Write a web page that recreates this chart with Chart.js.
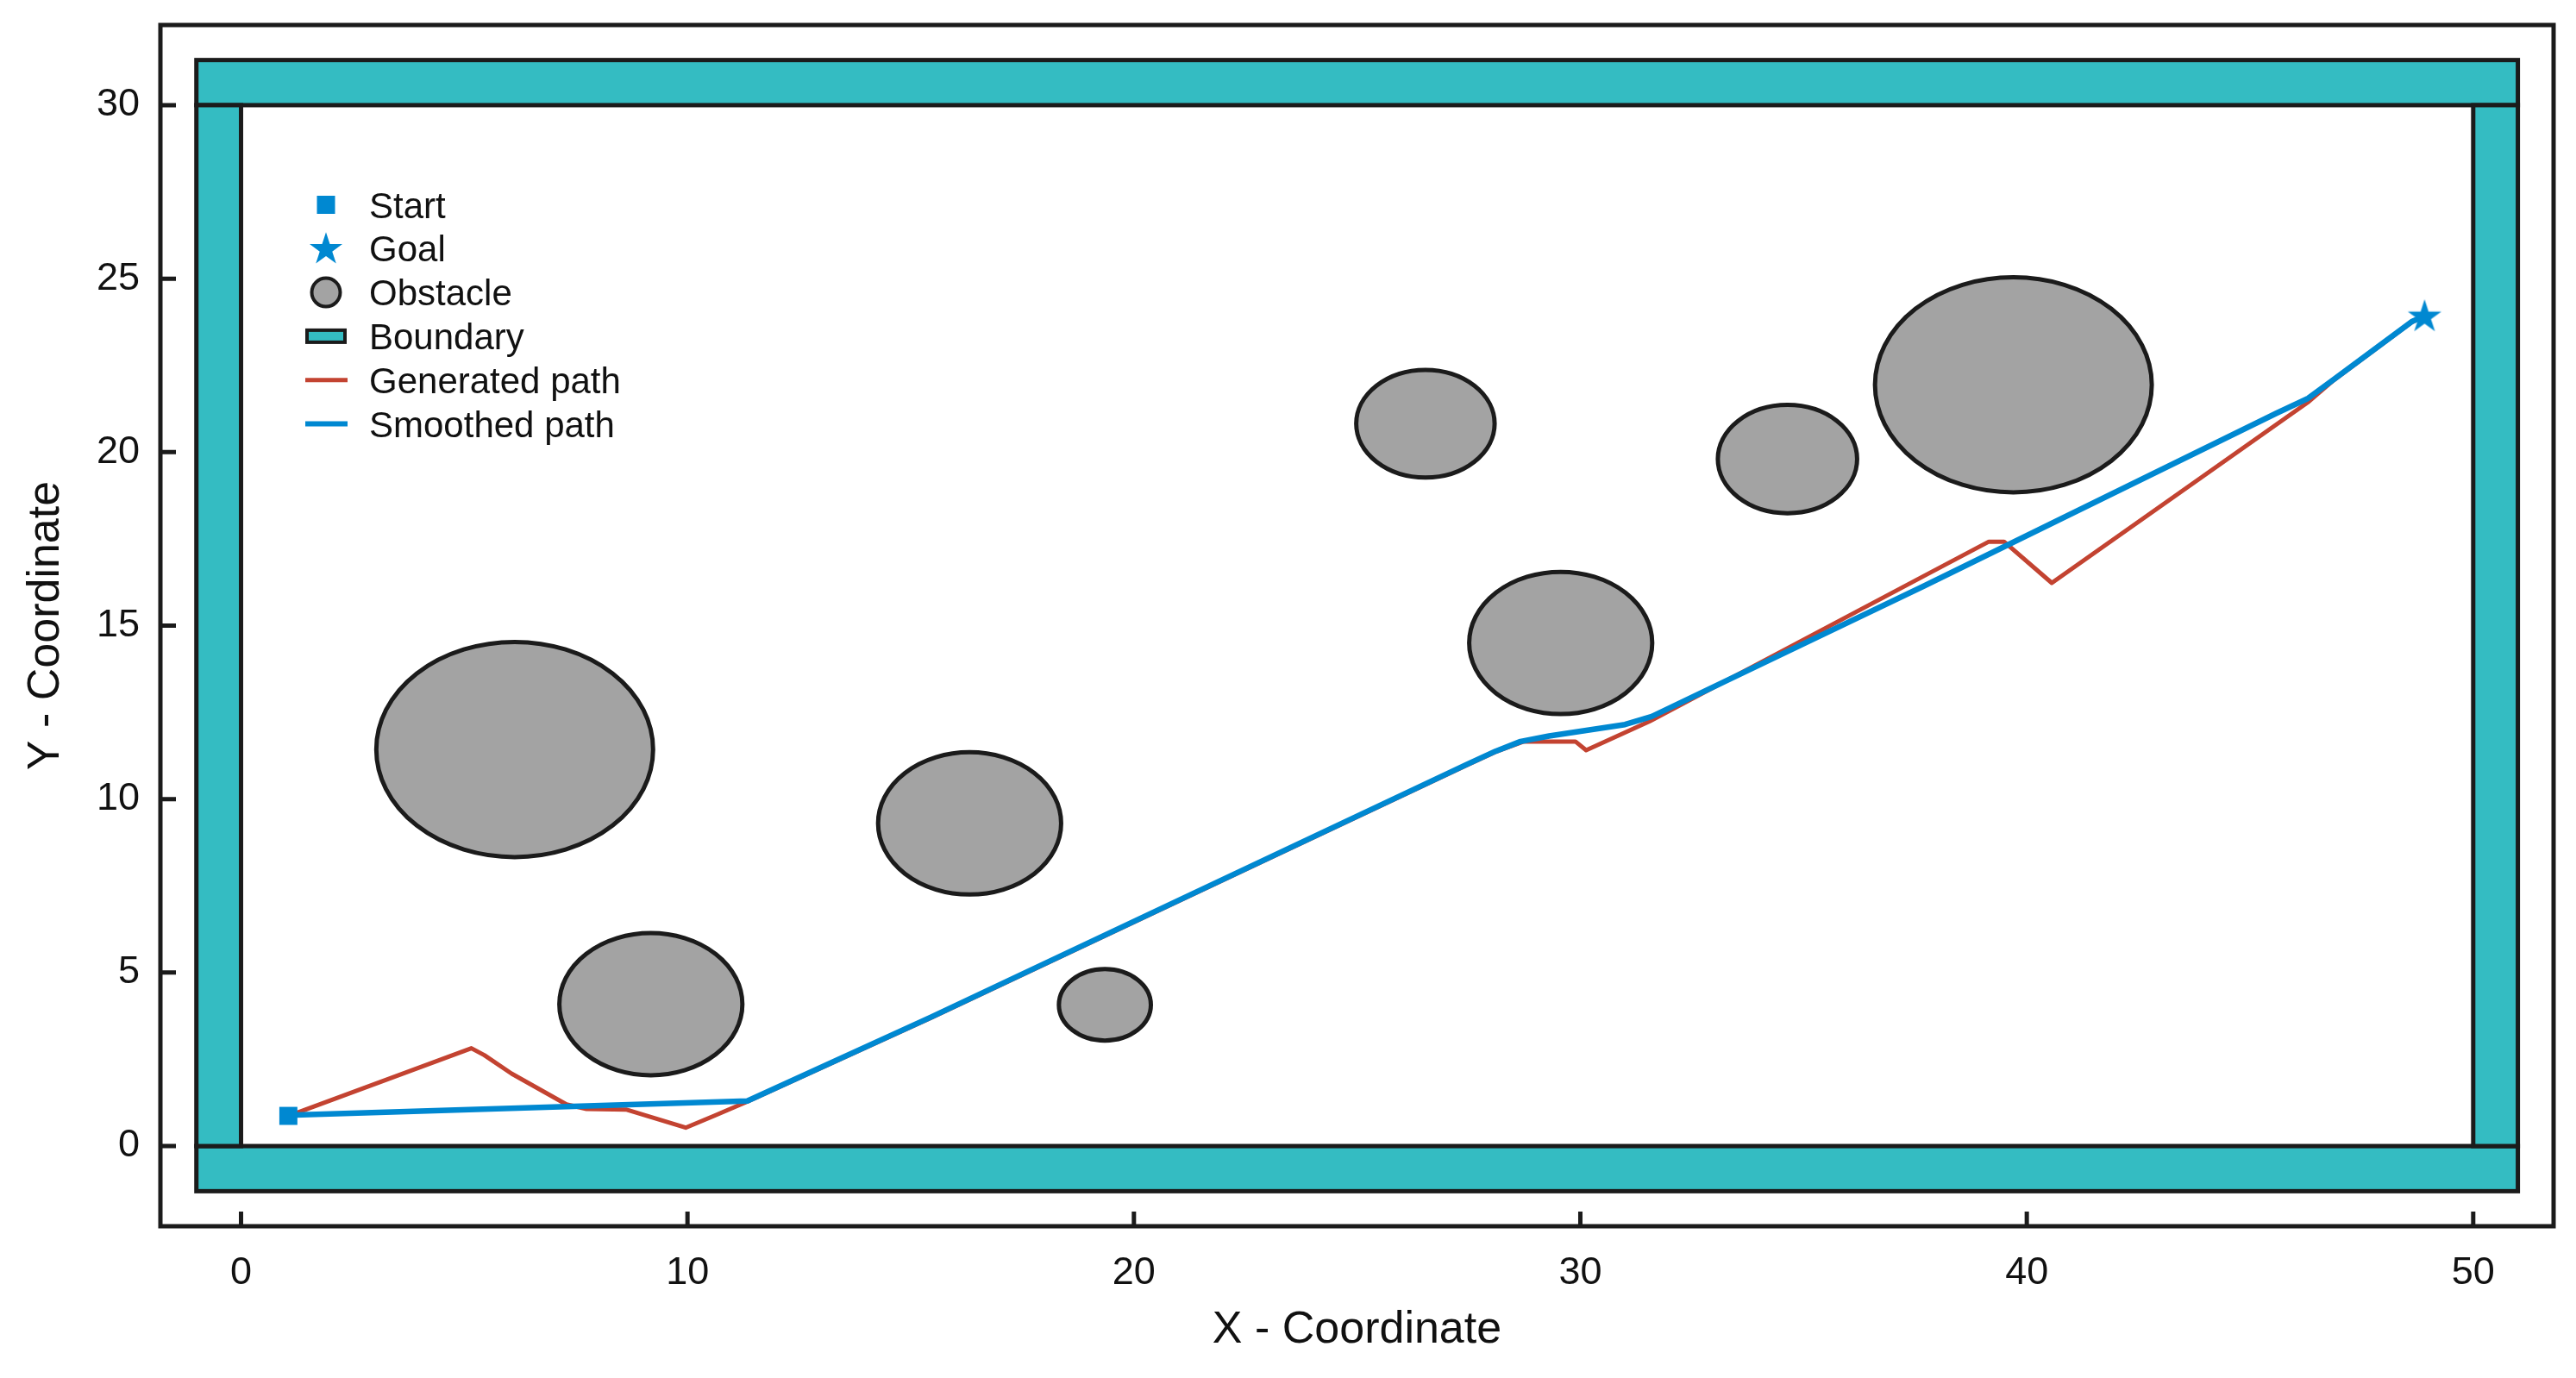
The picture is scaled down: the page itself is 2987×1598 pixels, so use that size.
<!DOCTYPE html>
<html>
<head>
<meta charset="utf-8">
<script src="https://cdn.jsdelivr.net/npm/chart.js@4.4.1/dist/chart.umd.min.js"></script>
<style>
  html, body { margin: 0; padding: 0; background: #fff; }
  canvas { display: block; }
</style>
</head>
<body>
<canvas id="pathChart" width="2987" height="1598"></canvas>
<script>
// obstacles (circles in data units)
const obstacleX = [6.13, 9.18, 16.32, 19.35, 26.53, 29.56, 34.64, 39.7];
const obstacleY = [11.43, 4.09, 9.3, 4.07, 20.82, 14.5, 19.8, 21.94];
const obstacleR = [3.1, 2.05, 2.05, 1.03, 1.55, 2.05, 1.56, 3.1];

// boundary walls: top, bottom, left, right
const wallX0 = [-1, -1, -1, 50];
const wallX1 = [51, 51, 0, 51];
const wallY0 = [30, -1.3, 0, 0];
const wallY1 = [31.3, 0, 30, 30];

// paths
const genX = [1.06, 5.16, 5.45, 6.06, 7.29, 7.74, 8.64, 9.96, 10.63, 11.34, 15.46, 27.44, 28.1, 28.73, 29.89, 30.13, 31.55, 37.68, 39.15, 39.49, 40.56, 46.29, 46.88, 48.62, 48.91];
const genY = [0.87, 2.82, 2.62, 2.09, 1.2, 1.07, 1.05, 0.53, 0.89, 1.28, 3.7, 10.97, 11.36, 11.66, 11.66, 11.41, 12.24, 16.42, 17.42, 17.42, 16.23, 21.43, 22.08, 23.74, 23.92];
const smoothX = [1.06, 11.34, 15.46, 27.44, 28.1, 28.66, 29.3, 31.0, 31.6, 37.68, 45.59, 46.3, 46.88, 48.62, 48.91];
const smoothY = [0.89, 1.3, 3.72, 10.99, 11.38, 11.66, 11.82, 12.15, 12.38, 16.13, 21.12, 21.55, 22.1, 23.76, 23.92];

const startPt = [1.06, 0.87];
const goalPt = [48.91, 23.92];

const xTicks = [0, 10, 20, 30, 40, 50];
const yTicks = [0, 5, 10, 15, 20, 25, 30];

const legendLabels = ['Start', 'Goal', 'Obstacle', 'Boundary', 'Generated path', 'Smoothed path'];

const BLUE = '#0088d1';
const RED = '#c34331';
const TEAL = '#34bcc2';
const GREY = '#a3a3a3';
const DARK = '#1b1b1b';
const TEXT = '#111';
const FONT = '"Liberation Sans", Arial, Helvetica, sans-serif';

const toPoints = (xs, ys) => xs.map((x, i) => ({ x, y: ys[i] }));

function starPath(c, cx, cy, R) {
  const r = R * 0.382;
  c.beginPath();
  for (let i = 0; i < 10; i++) {
    const rad = i % 2 === 0 ? R : r;
    const a = -Math.PI / 2 + i * Math.PI / 5;
    const px = cx + rad * Math.cos(a);
    const py = cy + rad * Math.sin(a);
    if (i === 0) c.moveTo(px, py); else c.lineTo(px, py);
  }
  c.closePath();
}

// filled star used as point style for the goal
const starImg = document.createElement('canvas');
starImg.width = 44;
starImg.height = 44;
{
  const sc = starImg.getContext('2d');
  starPath(sc, 22, 23, 20.5);
  sc.fillStyle = BLUE;
  sc.fill();
}

// no extra label padding, the plot box is placed by hand
function fixPadding(s) {
  s.paddingTop = 0;
  s.paddingBottom = 0;
  s.paddingLeft = 0;
  s.paddingRight = 0;
}

// walls + obstacles under the paths
const mapPlugin = {
  id: 'mapPlugin',
  beforeDatasetsDraw(chart) {
    const { ctx, scales: { x, y } } = chart;
    ctx.save();
    ctx.lineWidth = 5;
    ctx.strokeStyle = DARK;
    ctx.fillStyle = TEAL;
    for (let i = 0; i < wallX0.length; i++) {
      const l = x.getPixelForValue(wallX0[i]);
      const r = x.getPixelForValue(wallX1[i]);
      const t = y.getPixelForValue(wallY1[i]);
      const b = y.getPixelForValue(wallY0[i]);
      ctx.fillRect(l, t, r - l, b - t);
      ctx.strokeRect(l, t, r - l, b - t);
    }
    ctx.fillStyle = GREY;
    ctx.lineWidth = 5;
    for (let i = 0; i < obstacleX.length; i++) {
      const cx = x.getPixelForValue(obstacleX[i]);
      const cy = y.getPixelForValue(obstacleY[i]);
      const rx = x.getPixelForValue(obstacleX[i] + obstacleR[i]) - cx;
      const ry = cy - y.getPixelForValue(obstacleY[i] + obstacleR[i]);
      ctx.beginPath();
      ctx.ellipse(cx, cy, rx, ry, 0, 0, Math.PI * 2);
      ctx.fill();
      ctx.stroke();
    }
    ctx.restore();
  },
  afterDraw(chart) {
    const { ctx, chartArea: a, scales: { x, y } } = chart;
    ctx.save();
    // axes frame
    ctx.strokeStyle = DARK;
    ctx.lineWidth = 5;
    ctx.strokeRect(a.left, a.top, a.right - a.left, a.bottom - a.top);
    // inward ticks
    ctx.beginPath();
    xTicks.forEach(v => {
      const px = x.getPixelForValue(v);
      ctx.moveTo(px, a.bottom);
      ctx.lineTo(px, a.bottom - 17);
    });
    yTicks.forEach(v => {
      const py = y.getPixelForValue(v);
      ctx.moveTo(a.left, py);
      ctx.lineTo(a.left + 18, py);
    });
    ctx.stroke();

    // legend
    const symX = 378;
    const textX = 428;
    const base0 = 252.5;
    const step = 50.8;
    ctx.font = '42px ' + FONT;
    ctx.textBaseline = 'alphabetic';
    ctx.textAlign = 'left';
    legendLabels.forEach((label, i) => {
      const base = base0 + i * step;
      const cy = base - 15;
      if (i === 0) {
        ctx.fillStyle = BLUE;
        ctx.fillRect(symX - 10.5, cy - 10.5, 21, 21);
      } else if (i === 1) {
        starPath(ctx, symX, cy + 1, 20);
        ctx.fillStyle = BLUE;
        ctx.fill();
      } else if (i === 2) {
        ctx.beginPath();
        ctx.arc(symX, cy, 16.5, 0, Math.PI * 2);
        ctx.fillStyle = GREY;
        ctx.fill();
        ctx.lineWidth = 4;
        ctx.strokeStyle = DARK;
        ctx.stroke();
      } else if (i === 3) {
        ctx.fillStyle = TEAL;
        ctx.fillRect(symX - 22, cy - 7, 44, 14);
        ctx.lineWidth = 4;
        ctx.strokeStyle = DARK;
        ctx.strokeRect(symX - 22, cy - 7, 44, 14);
      } else {
        ctx.beginPath();
        ctx.moveTo(symX - 24, cy);
        ctx.lineTo(symX + 25, cy);
        ctx.lineWidth = i === 4 ? 5 : 6;
        ctx.strokeStyle = i === 4 ? RED : BLUE;
        ctx.stroke();
      }
      ctx.fillStyle = TEXT;
      ctx.fillText(label, textX, base);
    });
    ctx.restore();
  }
};

const ctx = document.getElementById('pathChart').getContext('2d');

new Chart(ctx, {
  type: 'scatter',
  data: {
    datasets: [
      {
        label: 'Start',
        data: [{ x: startPt[0], y: startPt[1] }],
        pointStyle: 'rect',
        pointRadius: 14.8,
        pointBorderWidth: 0,
        backgroundColor: BLUE,
        borderColor: BLUE
      },
      {
        label: 'Goal',
        data: [{ x: goalPt[0], y: goalPt[1] }],
        pointStyle: starImg,
        pointRadius: 20
      },
      {
        label: 'Smoothed path',
        data: toPoints(smoothX, smoothY),
        showLine: true,
        borderColor: BLUE,
        borderWidth: 6.5,
        borderJoinStyle: 'round',
        pointRadius: 0,
        tension: 0
      },
      {
        label: 'Generated path',
        data: toPoints(genX, genY),
        showLine: true,
        borderColor: RED,
        borderWidth: 5,
        borderJoinStyle: 'round',
        pointRadius: 0,
        tension: 0
      }
    ]
  },
  options: {
    responsive: false,
    animation: false,
    devicePixelRatio: 1,
    layout: { padding: { top: 29, right: 26, left: 0, bottom: 0 } },
    plugins: {
      legend: { display: false },
      tooltip: { enabled: false }
    },
    scales: {
      x: {
        type: 'linear',
        min: -1.806,
        max: 51.8,
        afterFit: s => { fixPadding(s); s.height = 176; },
        afterBuildTicks: s => { s.ticks = xTicks.map(v => ({ value: v })); },
        grid: { display: false, drawTicks: false },
        border: { display: false },
        ticks: {
          color: TEXT,
          padding: 28,
          maxRotation: 0,
          font: { family: FONT, size: 45 },
          callback: v => String(v)
        },
        title: {
          display: true,
          text: 'X - Coordinate',
          color: TEXT,
          font: { family: FONT, size: 52 },
          padding: { top: 0, bottom: 24 }
        }
      },
      y: {
        type: 'linear',
        min: -2.31,
        max: 32.31,
        afterFit: s => { fixPadding(s); s.width = 186; },
        afterBuildTicks: s => { s.ticks = yTicks.map(v => ({ value: v })); },
        grid: { display: false, drawTicks: false },
        border: { display: false },
        ticks: {
          color: TEXT,
          padding: 24,
          font: { family: FONT, size: 45 },
          callback: v => String(v)
        },
        title: {
          display: true,
          text: 'Y - Coordinate',
          color: TEXT,
          font: { family: FONT, size: 52 },
          padding: { top: 22, bottom: 0 }
        }
      }
    }
  },
  plugins: [mapPlugin]
});
</script>
</body>
</html>
